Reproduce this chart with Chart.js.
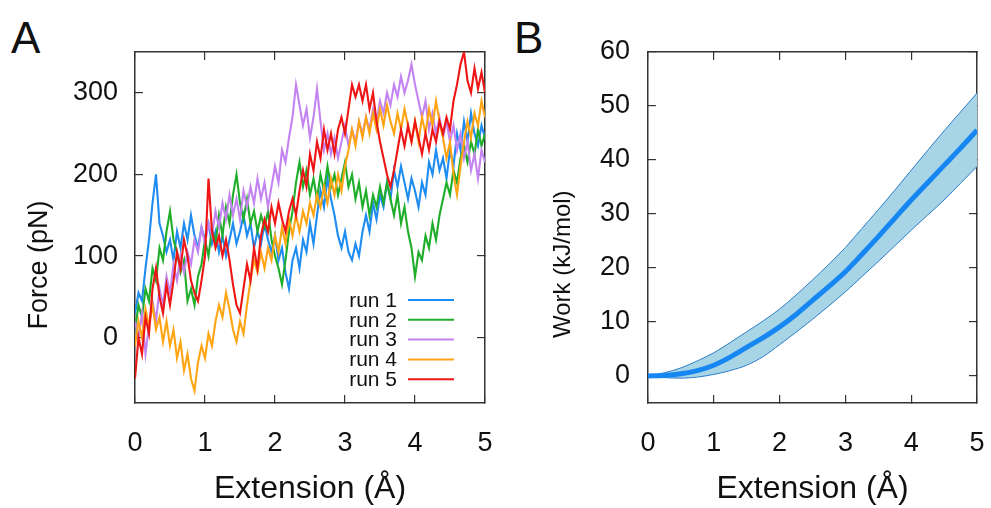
<!DOCTYPE html>
<html>
<head>
<meta charset="utf-8">
<script src="https://cdn.jsdelivr.net/npm/chart.js@4/dist/chart.umd.min.js"></script>
<style>
  html, body { margin: 0; padding: 0; background: #fff; }
  body { width: 991px; height: 508px; position: relative; overflow: hidden; font-family: "Liberation Sans", Arial, sans-serif; }
  canvas { position: absolute; top: 0; }
  #chartA { left: 0; }
  #chartB { left: 500px; }
  .panel { position: absolute; font-size: 44px; color: #111; line-height: 1; }
</style>
</head>
<body>
<div class="panel" style="left:11px; top:16px;">A</div>
<div class="panel" style="left:514px; top:16px;">B</div>
<canvas id="chartA" width="500" height="508"></canvas>
<canvas id="chartB" width="491" height="508"></canvas>
<script>
// panel A: force traces, sampled every 0.05 Å
const extA = [0,0.05,0.1,0.15,0.2,0.25,0.3,0.35,0.4,0.45,0.5,0.55,0.6,0.65,0.7,0.75,0.8,0.85,0.9,0.95,
  1,1.05,1.1,1.15,1.2,1.25,1.3,1.35,1.4,1.45,1.5,1.55,1.6,1.65,1.7,1.75,1.8,1.85,1.9,1.95,
  2,2.05,2.1,2.15,2.2,2.25,2.3,2.35,2.4,2.45,2.5,2.55,2.6,2.65,2.7,2.75,2.8,2.85,2.9,2.95,
  3,3.05,3.1,3.15,3.2,3.25,3.3,3.35,3.4,3.45,3.5,3.55,3.6,3.65,3.7,3.75,3.8,3.85,3.9,3.95,
  4,4.05,4.1,4.15,4.2,4.25,4.3,4.35,4.4,4.45,4.5,4.55,4.6,4.65,4.7,4.75,4.8,4.85,4.9,4.95,5];

const run1 = [30,55,45,85,120,165,200,140,125,105,120,95,130,110,140,120,150,125,110,135,
  120,140,115,130,105,125,100,120,140,115,130,150,125,140,110,130,115,140,120,105,
  125,95,110,80,60,95,110,85,120,105,140,115,150,180,160,195,170,150,125,110,
  130,105,95,115,100,130,150,130,165,145,175,160,190,170,205,185,210,190,170,195,
  180,160,190,175,215,200,230,205,220,195,230,210,250,230,265,240,275,250,235,260,245];
const run2 = [10,40,25,60,45,85,70,110,95,130,155,120,105,80,95,45,60,40,75,90,
  120,100,135,115,150,125,160,140,175,200,165,145,170,140,155,130,150,135,155,120,
  100,85,65,95,130,155,190,215,185,205,175,195,170,200,180,210,185,200,175,195,
  215,185,200,170,190,160,180,150,175,160,185,165,190,170,150,175,140,160,130,110,
  75,105,95,125,110,140,120,150,170,190,175,205,190,220,235,215,240,225,255,235,250];
const run3 = [20,0,30,-20,15,45,20,60,40,75,55,90,70,100,80,105,90,120,105,135,
  115,140,125,155,135,165,145,175,150,170,145,180,160,185,165,195,170,190,160,185,
  210,190,230,215,245,270,310,285,260,280,245,270,305,265,230,250,225,245,220,240,
  260,235,255,240,265,250,270,255,280,265,290,275,300,285,310,295,320,300,315,335,
  310,290,270,290,255,275,250,270,245,265,240,260,230,250,220,240,205,225,195,230,215];
const run4 = [-10,20,0,35,15,40,10,25,-5,20,-10,10,-25,-5,-40,-20,-50,-65,-30,-10,
  -25,5,-10,20,40,25,55,35,10,-5,20,5,40,70,95,80,105,85,110,95,
  125,105,135,115,145,125,150,130,155,140,165,150,175,160,185,165,195,175,200,180,
  210,230,255,235,265,245,270,250,275,255,280,260,285,265,250,275,255,280,260,240,
  265,240,270,250,280,260,290,265,245,220,240,200,175,210,240,265,245,275,260,290,270];
const run5 = [-50,0,-20,25,5,60,85,50,30,65,40,70,105,85,120,100,70,55,45,70,
  100,195,130,110,125,100,120,95,65,40,30,60,90,70,110,85,125,145,130,160,
  140,165,145,130,155,170,150,180,205,185,225,205,240,220,255,230,250,225,255,270,
  250,280,310,295,310,290,310,280,300,265,240,220,200,185,205,230,255,235,260,240,
  265,245,225,250,230,255,240,265,250,270,255,290,310,335,350,315,300,330,305,325,300];

const runs = [run1, run2, run3, run4, run5];
const runLabels = ['run 1', 'run 2', 'run 3', 'run 4', 'run 5'];
const runColors = ['#1e8cf0', '#1fae2a', '#c384f2', '#ffa514', '#ee1515'];

// panel B: work, mean with band, sampled every 0.25 Å
const extB = [0,0.25,0.5,0.75,1,1.25,1.5,1.75,2,2.25,2.5,2.75,3,3.25,3.5,3.75,4,4.25,4.5,4.75,5];
const workMean = [0,0.1,0.4,1.0,2.0,3.5,5.3,7.1,9.1,11.4,14.0,16.6,19.3,22.5,25.8,29.2,32.6,35.8,39.0,42.2,45.5];
const workUpper = [0,0.6,1.5,2.8,4.3,6.2,8.2,10.2,12.4,15.0,17.8,20.7,23.8,27.3,30.8,34.4,38.1,41.8,45.4,48.9,52.4];
const workLower = [0,-0.3,-0.4,-0.2,0.3,1.0,2.0,3.6,5.8,8.1,10.5,13.0,15.6,18.4,21.2,24.1,27.0,29.8,32.6,35.7,38.8];

const extTicks = [0, 1, 2, 3, 4, 5];
const forceTicks = [0, 100, 200, 300];
const workTicks = [0, 10, 20, 30, 40, 50, 60];

Chart.defaults.font.family = '"Liberation Sans", Arial, Helvetica, sans-serif';
Chart.defaults.color = '#111';

const axisColor = '#333';

function pts(xs, ys) {
  return xs.map((x, i) => ({ x: x, y: ys[i] }));
}

function fixTicks(values) {
  return scale => { scale.ticks = values.map(v => ({ value: v })); };
}

// one visible axis plus a mirror axis on the far side, ticks pointing inward
function axisPair(min, max, tickValues, opts) {
  const main = {
    type: 'linear',
    position: opts.position,
    min: min,
    max: max,
    afterBuildTicks: fixTicks(tickValues),
    afterFit: scale => {
      if (opts.position === 'bottom') scale.height = opts.size;
      else scale.width = opts.size;
      // end labels may overhang, don't let them shrink the plot
      scale.paddingLeft = scale.paddingRight = 0;
      scale.paddingTop = scale.paddingBottom = 0;
    },
    grid: { drawOnChartArea: false, tickLength: -8, color: axisColor, lineWidth: 1.2 },
    border: { color: axisColor, width: 1.5 },
    ticks: { padding: opts.tickPad, font: { size: 27 }, color: '#111' },
    title: {
      display: true,
      text: opts.title,
      font: { size: opts.titleSize, lineHeight: 1.2 },
      padding: opts.titlePad,
      color: '#111'
    }
  };
  const mirror = {
    type: 'linear',
    position: opts.position === 'bottom' ? 'top' : 'right',
    min: min,
    max: max,
    afterBuildTicks: fixTicks(tickValues),
    afterFit: scale => {
      if (opts.position === 'bottom') scale.height = 0;
      else scale.width = 0;
      scale.paddingLeft = scale.paddingRight = 0;
      scale.paddingTop = scale.paddingBottom = 0;
    },
    grid: { drawOnChartArea: false, tickLength: -8, color: axisColor, lineWidth: 1.2 },
    border: { color: axisColor, width: 1.5 },
    ticks: { display: false }
  };
  return [main, mirror];
}

const insideLegend = {
  id: 'insideLegend',
  afterDatasetsDraw(chart) {
    const { ctx, chartArea } = chart;
    ctx.save();
    ctx.font = '21px "Liberation Sans", Arial, sans-serif';
    ctx.textAlign = 'right';
    ctx.textBaseline = 'middle';
    chart.data.datasets.forEach((ds, i) => {
      const y = chartArea.bottom - 103 + i * 19.8;
      ctx.fillStyle = '#111';
      ctx.fillText(ds.label, chartArea.right - 88, y + 1);
      ctx.strokeStyle = ds.borderColor;
      ctx.lineWidth = 2;
      ctx.beginPath();
      ctx.moveTo(chartArea.right - 77, y);
      ctx.lineTo(chartArea.right - 31, y);
      ctx.stroke();
    });
    ctx.restore();
  }
};

function plotForce() {
  const [x, xTop] = axisPair(0, 5, extTicks, { position: 'bottom', size: 105, tickPad: 32, title: 'Extension (Å)', titleSize: 32, titlePad: 0 });
  // trailing spaces push the rotated title down a little, as in the original
  const [y, yRight] = axisPair(-80, 350, forceTicks, { position: 'left', size: 135, tickPad: 25, title: 'Force (pN)' + ' '.repeat(10), titleSize: 27, titlePad: { top: 23 } });
  new Chart(document.getElementById('chartA'), {
    type: 'line',
    data: {
      datasets: runs.map((r, i) => ({
        label: runLabels[i],
        data: pts(extA, r),
        borderColor: runColors[i],
        borderWidth: 2.1,
        pointRadius: 0,
        tension: 0,
        order: runs.length - 1 - i
      }))
    },
    options: {
      responsive: false,
      animation: false,
      layout: { padding: { left: 0, right: 15, top: 52, bottom: 0 } },
      plugins: { legend: { display: false }, tooltip: { enabled: false } },
      scales: { x: x, xTop: xTop, y: y, yRight: yRight }
    },
    plugins: [insideLegend]
  });
}

function plotWork() {
  const [x, xTop] = axisPair(0, 5, extTicks, { position: 'bottom', size: 105, tickPad: 32, title: 'Extension (Å)', titleSize: 32, titlePad: 0 });
  const [y, yRight] = axisPair(-5, 60, workTicks, { position: 'left', size: 148, tickPad: 26, title: 'Work (kJ/mol)' + ' '.repeat(11), titleSize: 24, titlePad: { top: 49 } });
  const edge = '#2a7cc8';
  new Chart(document.getElementById('chartB'), {
    type: 'line',
    data: {
      datasets: [
        { label: 'upper', data: pts(extB, workUpper), borderColor: edge, borderWidth: 1, backgroundColor: '#a8d5e6', fill: '+1', pointRadius: 0, cubicInterpolationMode: 'monotone', order: 2 },
        { label: 'lower', data: pts(extB, workLower), borderColor: edge, borderWidth: 1, fill: false, pointRadius: 0, cubicInterpolationMode: 'monotone', order: 1 },
        { label: 'mean', data: pts(extB, workMean), borderColor: '#1687f2', borderWidth: 5, fill: false, pointRadius: 0, cubicInterpolationMode: 'monotone', order: 0 }
      ]
    },
    options: {
      responsive: false,
      animation: false,
      layout: { padding: { left: 0, right: 14, top: 52, bottom: 0 } },
      plugins: { legend: { display: false }, tooltip: { enabled: false } },
      scales: { x: x, xTop: xTop, y: y, yRight: yRight }
    }
  });
}

plotForce();
plotWork();
</script>
</body>
</html>
